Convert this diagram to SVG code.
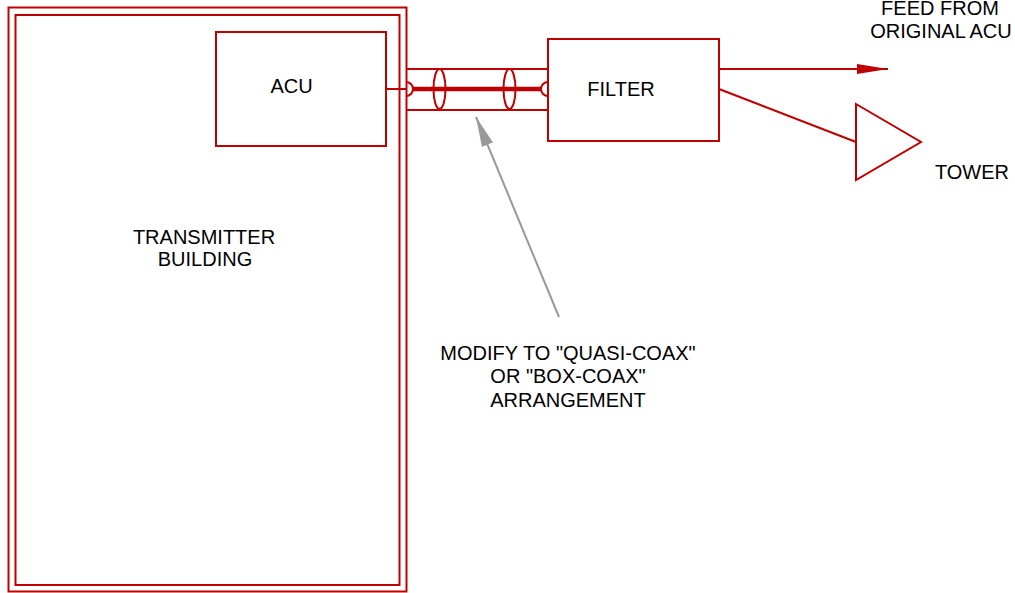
<svg xmlns="http://www.w3.org/2000/svg" width="1015" height="593" viewBox="0 0 1015 593">
<defs>
<style>
.r{fill:none;stroke:#c00000;stroke-width:2}
.t{font-family:"Liberation Sans",Arial,sans-serif;font-size:20px;fill:#000;text-anchor:middle}
</style>
<marker id="ah" markerWidth="32" markerHeight="12" refX="31" refY="5" orient="auto" markerUnits="userSpaceOnUse"><path d="M0,0 L31,5 L0,10 Z" fill="#c00000"/></marker>
<marker id="ag" markerWidth="32" markerHeight="14" refX="30" refY="6" orient="auto" markerUnits="userSpaceOnUse"><path d="M0,0 L30,6 L0,12 Z" fill="#999999"/></marker>
</defs>
<rect width="1015" height="593" fill="#fff"/>
<g id="building">
<rect class="r" x="8.5" y="7.5" width="398" height="584"/>
<rect class="r" x="15.5" y="15" width="384" height="570"/>
<text class="t" x="204" y="244">TRANSMITTER</text>
<text class="t" x="205" y="266">BUILDING</text>
</g>
<g id="acu">
<rect class="r" x="216" y="32" width="170" height="114"/>
<text class="t" x="291.5" y="93">ACU</text>
</g>
<g id="filter">
<rect class="r" x="548" y="39" width="171" height="102"/>
<text class="t" x="621" y="96">FILTER</text>
</g>
<g id="tower">
<polygon class="r" points="856,104 921,142 856,180"/>
<text class="t" x="972" y="179">TOWER</text>
</g>
<g id="feed">
<text class="t" x="940" y="15">FEED FROM</text>
<text class="t" x="941" y="38">ORIGINAL ACU</text>
</g>
<g id="note">
<text class="t" x="568" y="360">MODIFY TO "QUASI-COAX"</text>
<text class="t" x="568" y="383">OR "BOX-COAX"</text>
<text class="t" x="568" y="407">ARRANGEMENT</text>
</g>
<g id="connectors">
<line class="r" x1="386" y1="89" x2="406" y2="89"/>
<line class="r" x1="406" y1="69" x2="548" y2="69"/>
<line class="r" x1="406" y1="110" x2="548" y2="110"/>
<path class="r" d="M406,82 A7,7 0 0 1 406,96"/>
<path class="r" d="M548,82 A7,7 0 0 0 548,96"/>
<line x1="413" y1="89" x2="541" y2="89" stroke="#c00000" stroke-width="4.5"/>
<ellipse class="r" cx="439.5" cy="89" rx="6" ry="20"/>
<ellipse class="r" cx="509.5" cy="89" rx="6" ry="20"/>
<line class="r" x1="719" y1="69" x2="888" y2="69" marker-end="url(#ah)"/>
<line class="r" x1="719" y1="89" x2="856" y2="142"/>
<line x1="559" y1="317" x2="476" y2="117" stroke="#999999" stroke-width="2" marker-end="url(#ag)"/>
</g>
</svg>
